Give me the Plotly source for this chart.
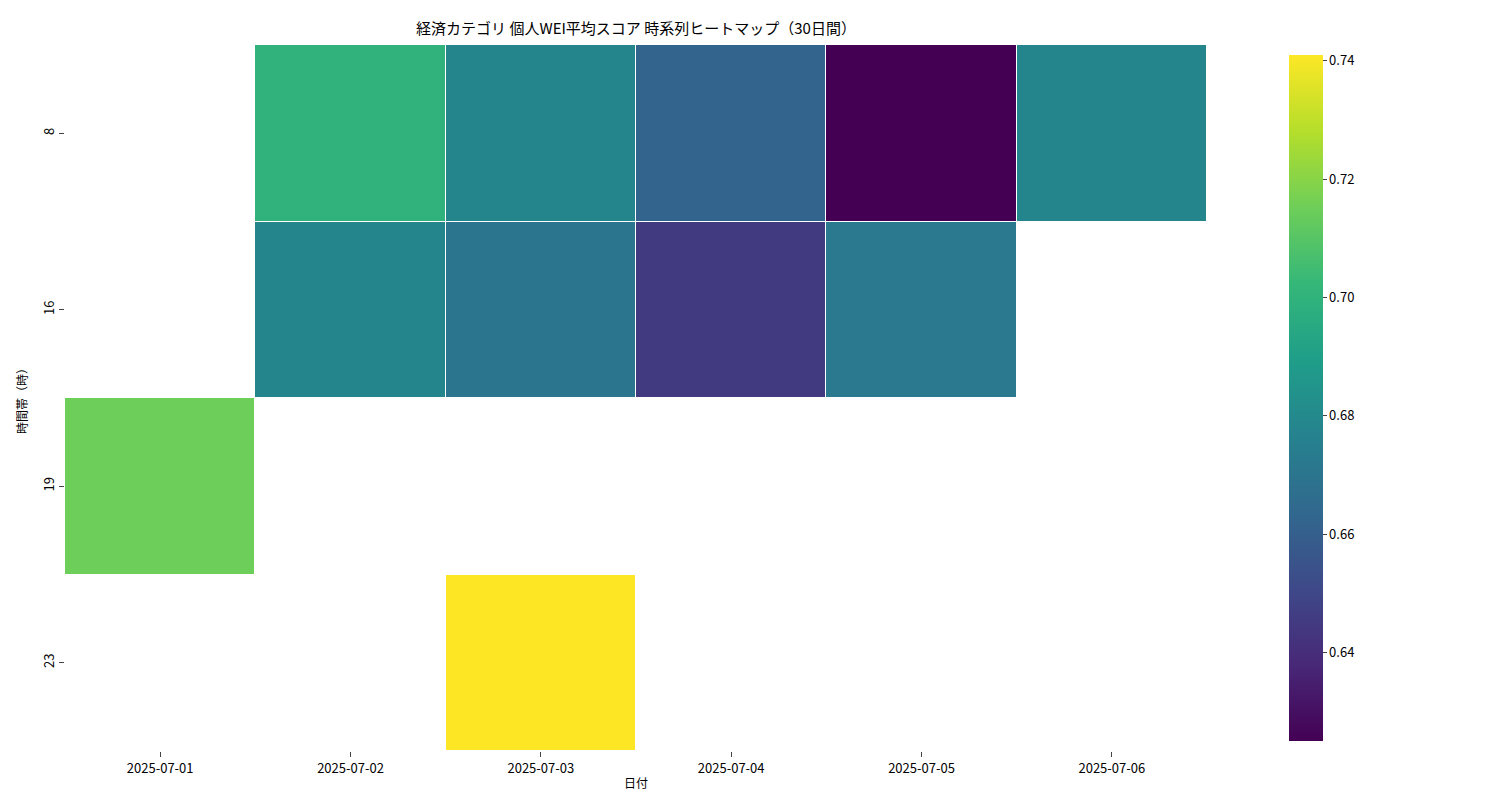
import plotly.graph_objects as go

dates = ["2025-07-01", "2025-07-02", "2025-07-03", "2025-07-04", "2025-07-05", "2025-07-06"]
hours = ["8", "16", "19", "23"]
values = [
    [None, 0.700, 0.678, 0.662, 0.625, 0.678],
    [None, 0.678, 0.670, 0.645, 0.672, None],
    [0.715, None, None, None, None, None],
    [None, None, 0.741, None, None, None],
]

font = "Noto Sans CJK JP"
fig = go.Figure(go.Heatmap(
    x=dates, y=hours, z=values, colorscale="Viridis", zmin=0.625, zmax=0.741,
    xgap=1, ygap=1, hoverongaps=False,
    colorbar=dict(x=1.063, xanchor="left", y=0, yanchor="bottom", len=1, lenmode="fraction",
                  thickness=34, outlinewidth=0, tickvals=[0.64, 0.66, 0.68, 0.70, 0.72, 0.74],
                  ticktext=["0.64", "0.66", "0.68", "0.70", "0.72", "0.74"],
                  ticks="outside", ticklen=4, tickfont=dict(size=13)),
))
fig.update_layout(
    width=1500, height=800, margin=dict(l=57, r=301, t=37, b=57),
    plot_bgcolor="white", paper_bgcolor="white",
    font=dict(family=font, color="black", size=13),
    title=dict(text="経済カテゴリ 個人WEI平均スコア 時系列ヒートマップ（30日間）", x=(57+1199)/2/1500,
               xanchor="center", y=1-21/800, yanchor="middle", font=dict(size=15)),
)
fig.update_xaxes(type="category", title=dict(text="日付", font=dict(size=12), standoff=4),
                 ticks="outside", ticklen=5, showgrid=False, showline=False)
fig.update_yaxes(type="category", autorange="reversed", title=dict(text="時間帯（時）", font=dict(size=12), standoff=8),
                 ticks="outside", ticklen=5, tickangle=-90, showgrid=False, showline=False)
fig.write_html("out.html")
